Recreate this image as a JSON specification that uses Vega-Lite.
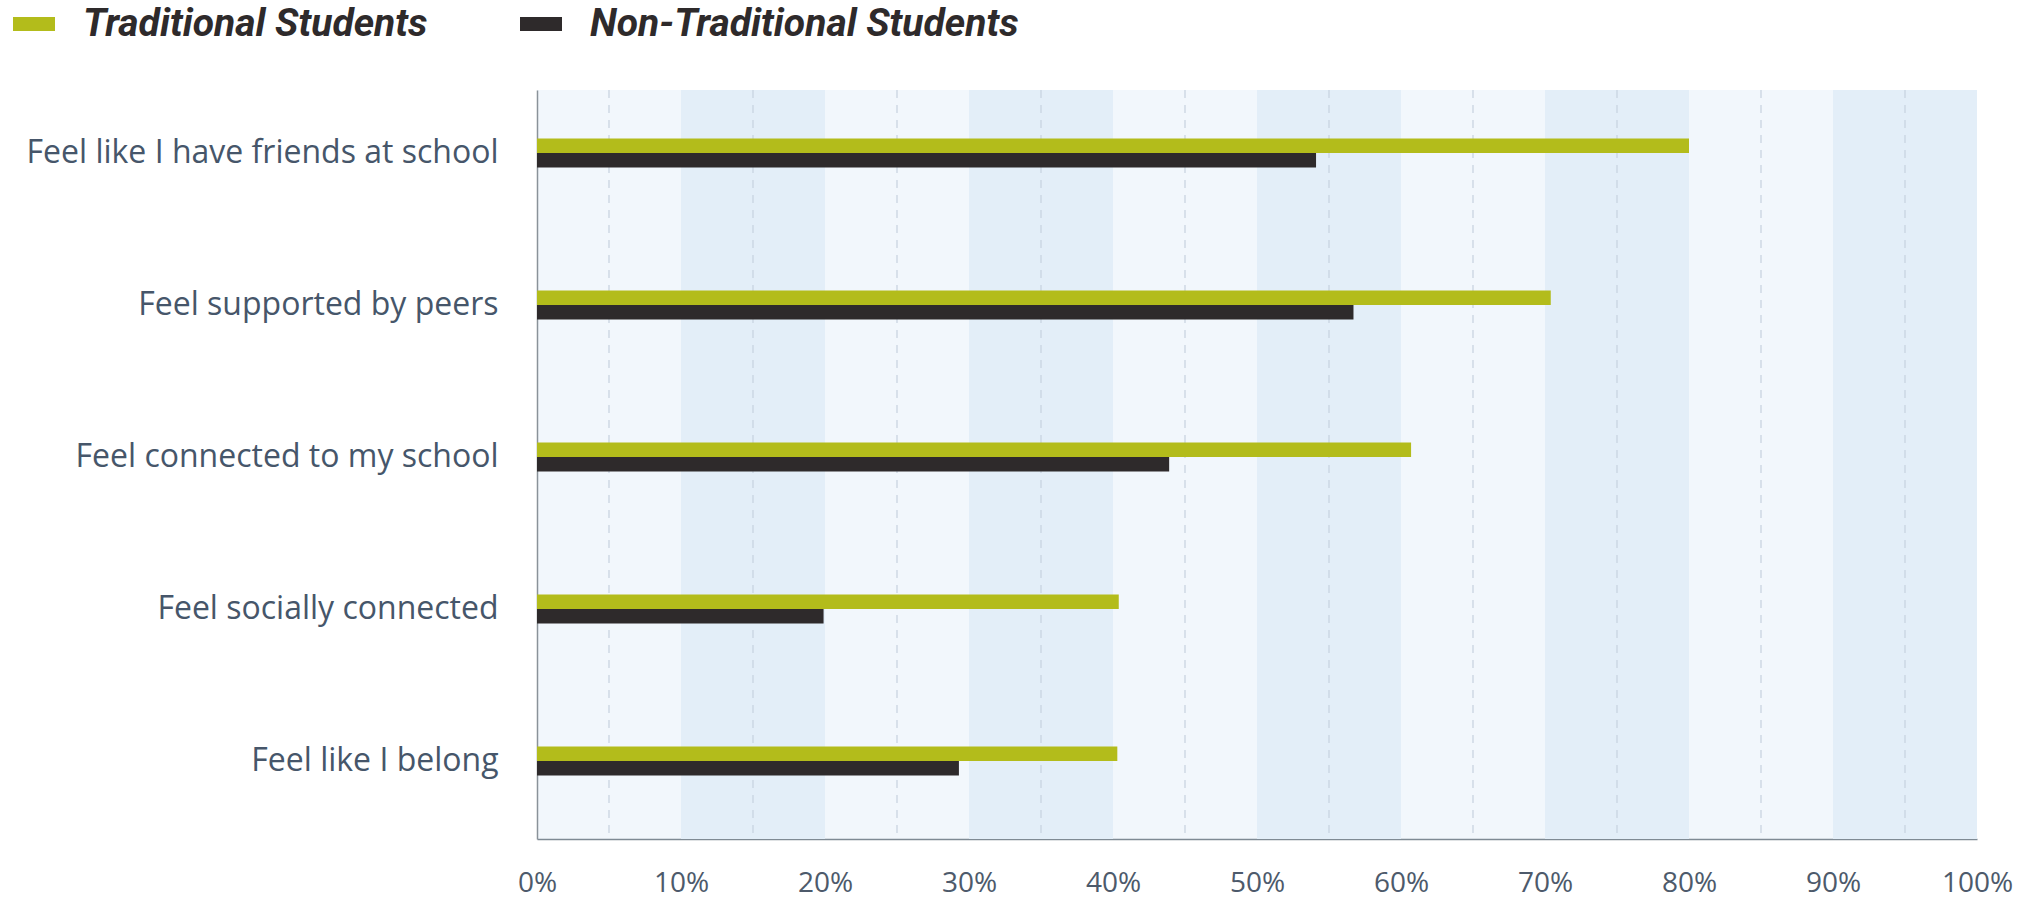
{
  "$schema": "https://vega.github.io/schema/vega-lite/v6.json",
  "autosize": {"type": "none"},
  "padding": {"left": 537, "top": 90, "right": 53, "bottom": 62},
  "width": 1440,
  "height": 749,
  "background": "#ffffff",
  "config": {
    "view": {"stroke": null, "fill": "#f2f7fc"},
    "font": "Open Sans"
  },
  "layer": [
    {
      "data": {"values": [{"a": 10, "b": 20}, {"a": 30, "b": 40}, {"a": 50, "b": 60}, {"a": 70, "b": 80}, {"a": 90, "b": 100}]},
      "mark": {"type": "rect", "color": "#e3eef8"},
      "encoding": {
        "x": {"field": "a", "type": "quantitative", "scale": {"domain": [0, 100]}},
        "x2": {"field": "b"}
      }
    },
    {
      "data": {"values": [{"v": 5}, {"v": 15}, {"v": 25}, {"v": 35}, {"v": 45}, {"v": 55}, {"v": 65}, {"v": 75}, {"v": 85}, {"v": 95}]},
      "mark": {"type": "rule", "color": "#c9d5e0", "strokeWidth": 1.3, "strokeDash": [8, 7]},
      "encoding": {
        "x": {"field": "v", "type": "quantitative", "scale": {"domain": [0, 100]}}
      }
    },
    {
      "data": {"values": [
        {"item": "Feel like I have friends at school", "group": "Traditional Students", "value": 80.0},
        {"item": "Feel like I have friends at school", "group": "Non-Traditional Students", "value": 54.1},
        {"item": "Feel supported by peers", "group": "Traditional Students", "value": 70.4},
        {"item": "Feel supported by peers", "group": "Non-Traditional Students", "value": 56.7},
        {"item": "Feel connected to my school", "group": "Traditional Students", "value": 60.7},
        {"item": "Feel connected to my school", "group": "Non-Traditional Students", "value": 43.9},
        {"item": "Feel socially connected", "group": "Traditional Students", "value": 40.4},
        {"item": "Feel socially connected", "group": "Non-Traditional Students", "value": 19.9},
        {"item": "Feel like I belong", "group": "Traditional Students", "value": 40.3},
        {"item": "Feel like I belong", "group": "Non-Traditional Students", "value": 29.3}
      ]},
      "mark": {"type": "bar"},
      "encoding": {
        "y": {
          "field": "item", "type": "nominal",
          "sort": ["Feel like I have friends at school", "Feel supported by peers", "Feel connected to my school", "Feel socially connected", "Feel like I belong"],
          "scale": {"paddingInner": 0.81, "paddingOuter": 0.369, "align": 0.433},
          "axis": {
            "title": null, "ticks": false, "domain": true, "domainColor": "#8a9299", "domainWidth": 1.5,
            "labelPadding": 39, "labelFontSize": 32, "labelColor": "#46566a", "labelLimit": 700, "labelFont": "Open Sans"
          }
        },
        "yOffset": {
          "field": "group", "type": "nominal",
          "sort": ["Traditional Students", "Non-Traditional Students"]
        },
        "x": {
          "field": "value", "type": "quantitative",
          "scale": {"domain": [0, 100]},
          "axis": {
            "title": null, "values": [0, 10, 20, 30, 40, 50, 60, 70, 80, 90, 100],
            "labelExpr": "datum.value + '%'", "ticks": false, "grid": false, "labelFlush": false,
            "domain": true, "domainColor": "#7f8a94", "domainWidth": 1.5,
            "labelPadding": 30, "labelFontSize": 28, "labelColor": "#4d5a6b", "labelFont": "Open Sans"
          }
        },
        "color": {
          "field": "group", "type": "nominal",
          "scale": {"domain": ["Traditional Students", "Non-Traditional Students"], "range": ["#b3bc1b", "#2e2a2b"]},
          "legend": {
            "title": null, "orient": "none", "direction": "horizontal",
            "legendX": -524, "legendY": -87, "padding": 0,
            "symbolType": "M-1,-0.33L1,-0.33L1,0.33L-1,0.33Z", "symbolSize": 1764, "symbolStrokeWidth": 0,
            "labelFont": "Roboto", "labelFontStyle": "italic", "labelFontWeight": "bold",
            "labelFontSize": 39, "labelColor": "#2e2a2b", "labelOffset": 28, "labelLimit": 700,
            "columnPadding": 92
          }
        }
      }
    }
  ]
}
